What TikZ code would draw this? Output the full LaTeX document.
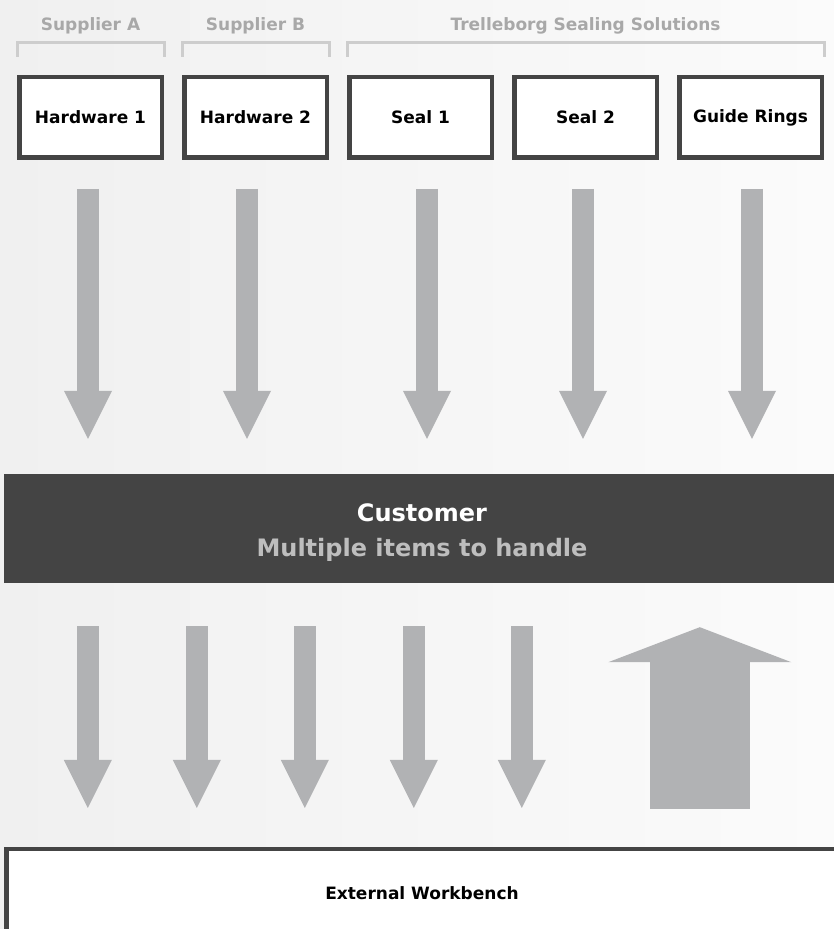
\documentclass[tikz,border=0pt]{standalone}
\usepackage{fontspec}
\setmainfont{DejaVu Sans}
\usetikzlibrary{arrows.meta, positioning, calc}

\definecolor{boxgray}{HTML}{444444}
\definecolor{flowgray}{HTML}{B1B2B4}
\definecolor{labelgray}{HTML}{A8A8A8}
\definecolor{bracegray}{HTML}{CDCDCD}
\definecolor{subgray}{HTML}{BEBEBE}
\definecolor{bgleft}{HTML}{F0F0F0}
\definecolor{bgright}{HTML}{FBFBFB}

\tikzset{
  part/.style={draw=boxgray, line width=4.5pt, fill=white, inner sep=0pt,
    minimum width=142.5pt, minimum height=80.5pt,
    font=\bfseries\fontsize{17}{20}\selectfont},
  supplier/.style={text=labelgray, inner sep=0pt, text depth=0pt,
    font=\bfseries\fontsize{17}{20}\selectfont},
  bracket/.style={draw=bracegray, line width=3pt},
  flow/.style={draw=flowgray, line width=22pt,
    -{Triangle[length=48pt, width=48pt, line width=0pt]}},
  backflow/.style={draw=flowgray, line width=100pt,
    -{Triangle[length=35pt, width=183pt, line width=0pt]}},
}

\begin{document}
\begin{tikzpicture}[x=1pt, y=1pt]
  \useasboundingbox (0,0) rectangle (834,929);
  \clip (0,0) rectangle (834,929);
  \shade[left color=bgleft, right color=bgright] (0,0) rectangle (834,929);

  \node[part] (hw1) at (90.5,811.5) {Hardware 1};
  \node[part, right=18pt of hw1] (hw2) {Hardware 2};
  \node[part, right=18pt of hw2] (seal1) {Seal 1};
  \node[part, right=18pt of seal1] (seal2) {Seal 2};
  \node[part, right=18pt of seal2] (rings) {Guide Rings};

  \node[supplier, above=44pt of hw1] (supA) {Supplier A};
  \node[supplier, above=44pt of hw2] (supB) {Supplier B};
  \node[supplier, above=44pt of seal2] (tss) {Trelleborg Sealing Solutions};

  \draw[bracket] ([yshift=18pt]hw1.north west) -- ++(0,14) -| ([yshift=18pt]hw1.north east);
  \draw[bracket] ([yshift=18pt]hw2.north west) -- ++(0,14) -| ([yshift=18pt]hw2.north east);
  \draw[bracket] ([yshift=18pt]seal1.north west) -- ++(0,14) -| ([yshift=18pt]rings.north east);

  \node[fill=boxgray, minimum width=836pt, minimum height=109pt, inner sep=0pt,
    align=center, text=white, font=\bfseries\fontsize{24}{35}\selectfont]
    (cust) at (422,400.5) {\rule{0pt}{26pt}Customer\\\textcolor{subgray}{Multiple items to handle}};

  \node[draw=boxgray, line width=4.5pt, fill=white, minimum width=831.5pt,
    minimum height=87.5pt, font=\bfseries\fontsize{17}{20}\selectfont]
    (bench) at (422,36) {External Workbench};

  \foreach \b/\dx in {hw1/-2.5, hw2/-8.5, seal1/6.5, seal2/-2.5, rings/1.5}
    \draw[flow] ([xshift=\dx, yshift=-29pt]\b.south) -- ([xshift=\dx, yshift=35pt]\b.south |- cust.north);

  \foreach \x in {84,193,301,410,518}
    \draw[flow] ($(cust.south west)+(\x,-43)$) -- ($(cust.south west |- bench.north)+(\x,39)$);

  \draw[backflow] ($(cust.south west |- bench.north)+(696,38)$) -- ($(cust.south west)+(696,-44)$);
\end{tikzpicture}
\end{document}
